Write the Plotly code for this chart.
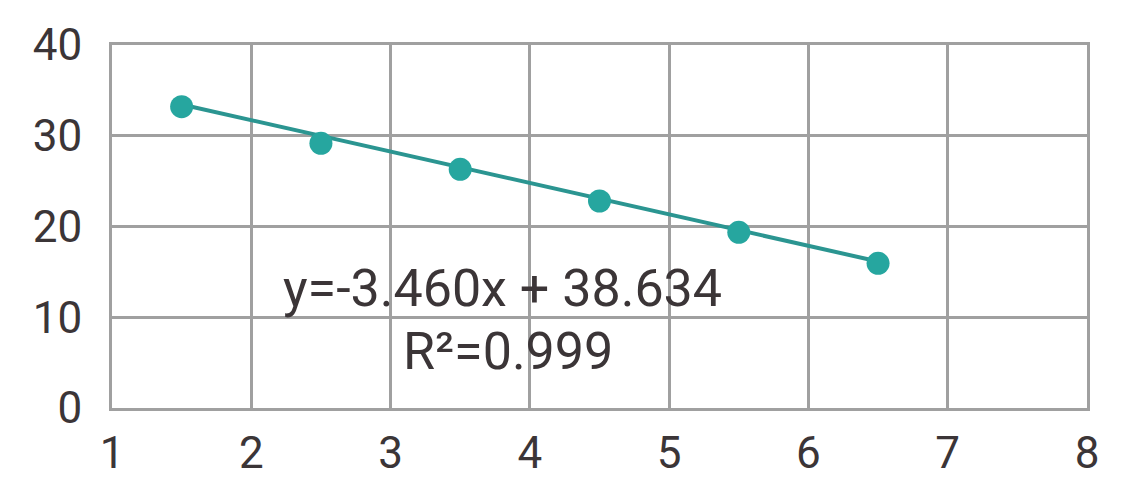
import plotly.graph_objects as go

x_vals = [1.5, 2.5, 3.5, 4.5, 5.5, 6.5]
y_vals = [33.2, 29.17, 26.3, 22.81, 19.36, 15.94]
slope = -3.460
intercept = 38.634
r2 = 0.999
x_ticks = [1, 2, 3, 4, 5, 6, 7, 8]
y_ticks = [0, 10, 20, 30, 40]

line_x = [min(x_vals), max(x_vals)]
line_y = [slope * v + intercept for v in line_x]

TEXT = "#3b3537"
GRID = "#a0a0a0"

fig = go.Figure()
fig.add_trace(go.Scatter(x=line_x, y=line_y, mode="lines",
                         line=dict(color="#2b9591", width=4), hoverinfo="skip"))
fig.add_trace(go.Scatter(x=x_vals, y=y_vals, mode="markers",
                         marker=dict(color="#26a69f", size=23, line=dict(width=0))))

fig.add_annotation(x=3.8, y=13.15, text=f"y={slope:.3f}x + {intercept:.3f}",
                   showarrow=False, font=dict(family="Roboto", size=52, color=TEXT))
fig.add_annotation(x=3.84, y=6.25, text=f"R\u00b2={r2:.3f}",
                   showarrow=False, font=dict(family="Roboto", size=52, color=TEXT))

fig.update_layout(
    width=1115, height=492,
    margin=dict(l=104, r=36, t=37, b=92),
    paper_bgcolor="white", plot_bgcolor="white",
    showlegend=False,
    font=dict(family="Roboto", color=TEXT, size=44),
)
fig.update_xaxes(range=[1, 8], tickvals=x_ticks, showgrid=True, gridcolor=GRID, gridwidth=3,
                 zeroline=False, showline=True, linecolor=GRID, linewidth=3, mirror=True,
                 ticks="", ticklabelstandoff=4, tickfont=dict(size=44, color=TEXT))
fig.update_yaxes(range=[0, 40], tickvals=y_ticks, showgrid=True, gridcolor=GRID, gridwidth=3,
                 zeroline=False, showline=True, linecolor=GRID, linewidth=3, mirror=True,
                 ticks="", ticklabelstandoff=18, tickfont=dict(size=44, color=TEXT))

fig.write_html("out.html")
